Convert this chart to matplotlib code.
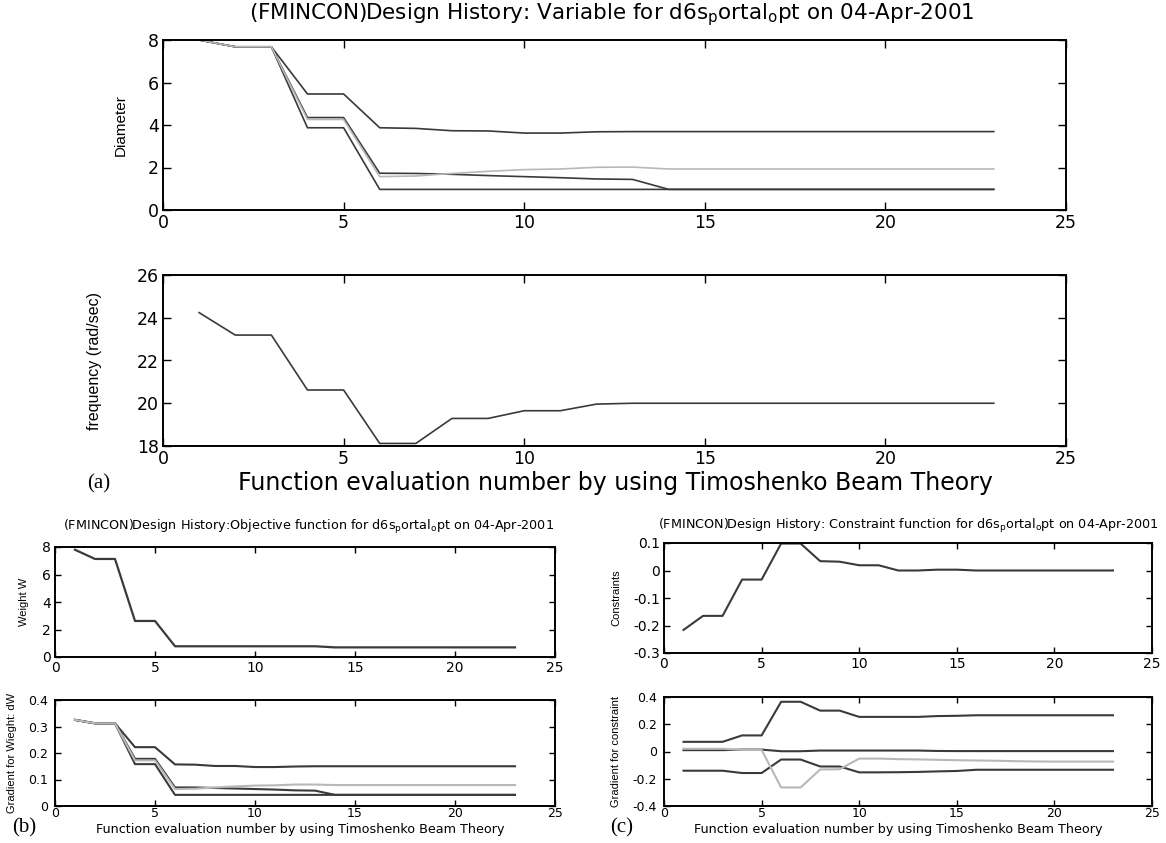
import matplotlib
matplotlib.use("Agg")
import matplotlib.pyplot as plt
from matplotlib.ticker import FixedLocator, FixedFormatter

plt.rcParams['font.family'] = ['DejaVu Sans']
plt.rcParams['axes.unicode_minus'] = False

# ---------------- data ----------------
evals = [1, 2, 3, 4, 5, 6, 7, 8, 9, 10, 11, 12, 13, 14, 15, 16, 17, 18, 19, 20, 21, 22, 23]

d_upper = [8.0, 7.68, 7.68, 5.46, 5.46, 3.87, 3.84, 3.73, 3.72, 3.62, 3.62, 3.68, 3.69,
           3.69, 3.69, 3.69, 3.69, 3.69, 3.69, 3.69, 3.69, 3.69, 3.69]
d_mid = [8.0, 7.68, 7.68, 4.35, 4.35, 1.73, 1.72, 1.68, 1.62, 1.57, 1.52, 1.46, 1.44,
         0.97, 0.97, 0.97, 0.97, 0.97, 0.97, 0.97, 0.97, 0.97, 0.97]
d_gray = [8.0, 7.68, 7.68, 4.26, 4.26, 1.57, 1.60, 1.72, 1.82, 1.90, 1.93, 2.01, 2.02,
          1.93, 1.93, 1.93, 1.93, 1.93, 1.93, 1.93, 1.93, 1.93, 1.93]
d_low = [8.0, 7.68, 7.68, 3.87, 3.87, 0.97, 0.97, 0.97, 0.97, 0.97, 0.97, 0.97, 0.97,
         0.97, 0.97, 0.97, 0.97, 0.97, 0.97, 0.97, 0.97, 0.97, 0.97]

freq = [24.24, 23.19, 23.19, 20.62, 20.62, 18.12, 18.12, 19.29, 19.29, 19.65, 19.65, 19.96,
        20.0, 20.0, 20.0, 20.0, 20.0, 20.0, 20.0, 20.0, 20.0, 20.0, 20.0]

weight = [7.8, 7.13, 7.13, 2.62, 2.62, 0.78, 0.78, 0.78, 0.78, 0.78, 0.78, 0.78, 0.78,
          0.70, 0.70, 0.70, 0.70, 0.70, 0.70, 0.70, 0.70, 0.70, 0.70]

gw_upper = [0.325, 0.312, 0.312, 0.222, 0.222, 0.157, 0.156, 0.151, 0.151, 0.147, 0.147, 0.149,
            0.150, 0.150, 0.150, 0.150, 0.150, 0.150, 0.150, 0.150, 0.150, 0.150, 0.150]
gw_mid = [0.325, 0.312, 0.312, 0.178, 0.178, 0.070, 0.070, 0.068, 0.066, 0.064, 0.062, 0.059,
          0.058, 0.042, 0.042, 0.042, 0.042, 0.042, 0.042, 0.042, 0.042, 0.042, 0.042]
gw_gray = [0.325, 0.312, 0.312, 0.172, 0.172, 0.064, 0.065, 0.070, 0.074, 0.077, 0.078, 0.081,
           0.081, 0.079, 0.079, 0.079, 0.079, 0.079, 0.079, 0.079, 0.079, 0.079, 0.079]
gw_low = [0.325, 0.312, 0.312, 0.158, 0.158, 0.042, 0.042, 0.042, 0.042, 0.042, 0.042, 0.042,
          0.042, 0.042, 0.042, 0.042, 0.042, 0.042, 0.042, 0.042, 0.042, 0.042, 0.042]

constraint = [-0.216, -0.165, -0.165, -0.033, -0.033, 0.098, 0.098, 0.034, 0.032, 0.019, 0.019,
              0.0, 0.0, 0.003, 0.003, 0.0, 0.0, 0.0, 0.0, 0.0, 0.0, 0.0, 0.0]

gc_a = [0.071, 0.071, 0.071, 0.118, 0.118, 0.365, 0.365, 0.300, 0.300, 0.254, 0.254, 0.254,
        0.254, 0.260, 0.262, 0.266, 0.266, 0.266, 0.266, 0.266, 0.266, 0.266, 0.266]
gc_b = [0.010, 0.010, 0.010, 0.014, 0.014, 0.002, 0.002, 0.007, 0.007, 0.007, 0.007, 0.007,
        0.007, 0.004, 0.003, 0.003, 0.003, 0.003, 0.003, 0.003, 0.003, 0.003, 0.003]
gc_gray = [0.020, 0.020, 0.020, 0.012, 0.012, -0.264, -0.264, -0.132, -0.130, -0.052, -0.052,
           -0.056, -0.058, -0.061, -0.064, -0.066, -0.068, -0.071, -0.073, -0.074, -0.074,
           -0.074, -0.074]
gc_d = [-0.141, -0.141, -0.141, -0.158, -0.158, -0.059, -0.059, -0.110, -0.110, -0.153, -0.153,
        -0.152, -0.150, -0.146, -0.143, -0.134, -0.134, -0.134, -0.134, -0.134, -0.134, -0.134,
        -0.134]

x_ticks = [0, 5, 10, 15, 20, 25]
x_ticklabels = ["0", "5", "10", "15", "20", "25"]
dia_ticks = [0, 2, 4, 6, 8]
freq_ticks = [18, 20, 22, 24, 26]
w_ticks = [0, 2, 4, 6, 8]
gw_ticks = [0, 0.1, 0.2, 0.3, 0.4]
gw_ticklabels = ["0", "0.1", "0.2", "0.3", "0.4"]
c_ticks = [-0.3, -0.2, -0.1, 0, 0.1]
c_ticklabels = ["-0.3", "-0.2", "-0.1", "0", "0.1"]
gc_ticks = [-0.4, -0.2, 0, 0.2, 0.4]
gc_ticklabels = ["-0.4", "-0.2", "0", "0.2", "0.4"]

title_a = r"(FMINCON)Design History: Variable for d6s$_\mathrm{p}$ortal$_\mathrm{o}$pt on 04-Apr-2001"
title_b = r"(FMINCON)Design History:Objective function for d6s$_\mathrm{p}$ortal$_\mathrm{o}$pt on 04-Apr-2001"
title_c = r"(FMINCON)Design History: Constraint function for d6s$_\mathrm{p}$ortal$_\mathrm{o}$pt on 04-Apr-2001"
xlab = "Function evaluation number by using Timoshenko Beam Theory"

DARK = "#3a3a3a"
GRAY = "#b8b8b8"

W, H = 1166, 843
fig = plt.figure(figsize=(W / 100, H / 100), dpi=100)
fig.patch.set_facecolor("white")


def add_ax(left, right, top, bottom):
    return fig.add_axes([left / W, 1 - bottom / H, (right - left) / W, (bottom - top) / H])


def style(ax, yticks, ylabels, ylim, tsize, tlen, xpad=3, ypad=3):
    ax.set_xlim(0, 25)
    ax.set_ylim(*ylim)
    ax.xaxis.set_major_locator(FixedLocator(x_ticks))
    ax.xaxis.set_major_formatter(FixedFormatter(x_ticklabels))
    ax.yaxis.set_major_locator(FixedLocator(yticks))
    ax.yaxis.set_major_formatter(FixedFormatter(ylabels))
    ax.tick_params(direction="in", top=True, right=True, length=tlen, width=1.0,
                   labelsize=tsize, colors="black")
    ax.tick_params(axis="x", pad=xpad)
    ax.tick_params(axis="y", pad=ypad)
    for s in ax.spines.values():
        s.set_linewidth(1.4)
        s.set_color("black")


narrow = ["Liberation Sans", "DejaVu Sans"]
serif = ["Liberation Serif", "DejaVu Serif"]

# ---- (a) top: diameters ----
ax1 = add_ax(163, 1066, 40, 210)
for s in (d_upper, d_mid, d_low):
    ax1.plot(evals, s, color=DARK, lw=1.2)
ax1.plot(evals, d_gray, color=GRAY, lw=1.2)
style(ax1, dia_ticks, [str(t) for t in dia_ticks], (0, 8), 12.5, 6)
ax1.set_ylabel("Diameter", family=narrow, fontsize=11)
ax1.yaxis.set_label_coords((128 - 163) / 903, 0.5)
fig.text(612 / W, 1 - 15 / H, title_a, ha="center", va="center", fontsize=15.5)

# ---- (a) bottom: frequency ----
ax2 = add_ax(163, 1066, 275, 446)
ax2.plot(evals, freq, color=DARK, lw=1.2)
style(ax2, freq_ticks, [str(t) for t in freq_ticks], (18, 26), 12.5, 6)
ax2.set_ylabel("frequency (rad/sec)", family=narrow, fontsize=11.5)
ax2.yaxis.set_label_coords((102 - 163) / 903, 0.5)
fig.text(615 / W, 1 - 483 / H, xlab, ha="center", va="center", fontsize=17)
fig.text(99 / W, 1 - 484 / H, "(a)", ha="center", va="center", fontsize=15, family=serif)

# ---- (b) top: weight ----
ax3 = add_ax(55, 555, 547, 657)
ax3.plot(evals, weight, color=DARK, lw=1.6)
style(ax3, w_ticks, [str(t) for t in w_ticks], (0, 8), 10, 4)
ax3.set_ylabel("Weight W", family=narrow, fontsize=8)
ax3.yaxis.set_label_coords((29 - 55) / 500, 0.5)
fig.text(309 / W, 1 - 527 / H, title_b, ha="center", va="center", fontsize=9.2)

# ---- (b) bottom: gradient of weight ----
ax4 = add_ax(55, 555, 700, 806)
for s in (gw_upper, gw_mid, gw_low):
    ax4.plot(evals, s, color=DARK, lw=1.5)
ax4.plot(evals, gw_gray, color=GRAY, lw=1.5)
style(ax4, gw_ticks, gw_ticklabels, (0, 0.4), 9, 4, xpad=1, ypad=5)
ax4.set_ylabel("Gradient for Wieght: dW", family=narrow, fontsize=8)
ax4.yaxis.set_label_coords((17 - 55) / 500, 0.5)
fig.text(300 / W, 1 - 829 / H, xlab, ha="center", va="center", fontsize=9.2)
fig.text(24 / W, 1 - 828 / H, "(b)", ha="center", va="center", fontsize=15, family=serif)

# ---- (c) top: constraints ----
ax5 = add_ax(664, 1152, 543, 653)
ax5.plot(evals, constraint, color=DARK, lw=1.5)
style(ax5, c_ticks, c_ticklabels, (-0.3, 0.1), 10, 4)
ax5.set_ylabel("Constraints", family=narrow, fontsize=8)
ax5.yaxis.set_label_coords((621 - 664) / 488, 0.5)
fig.text(908 / W, 1 - 526 / H, title_c, ha="center", va="center", fontsize=9.2)

# ---- (c) bottom: gradient of constraint ----
ax6 = add_ax(664, 1152, 697, 806)
for s in (gc_a, gc_b, gc_d):
    ax6.plot(evals, s, color=DARK, lw=1.5)
ax6.plot(evals, gc_gray, color=GRAY, lw=1.5)
style(ax6, gc_ticks, gc_ticklabels, (-0.4, 0.4), 9, 4, xpad=1, ypad=5)
ax6.set_ylabel("Gradient for constraint", family=narrow, fontsize=8)
ax6.yaxis.set_label_coords((621 - 664) / 488, 0.5)
fig.text(898 / W, 1 - 829 / H, xlab, ha="center", va="center", fontsize=9.2)
fig.text(622 / W, 1 - 828 / H, "(c)", ha="center", va="center", fontsize=15, family=serif)

fig.savefig("out.png", dpi=100, facecolor="white")
